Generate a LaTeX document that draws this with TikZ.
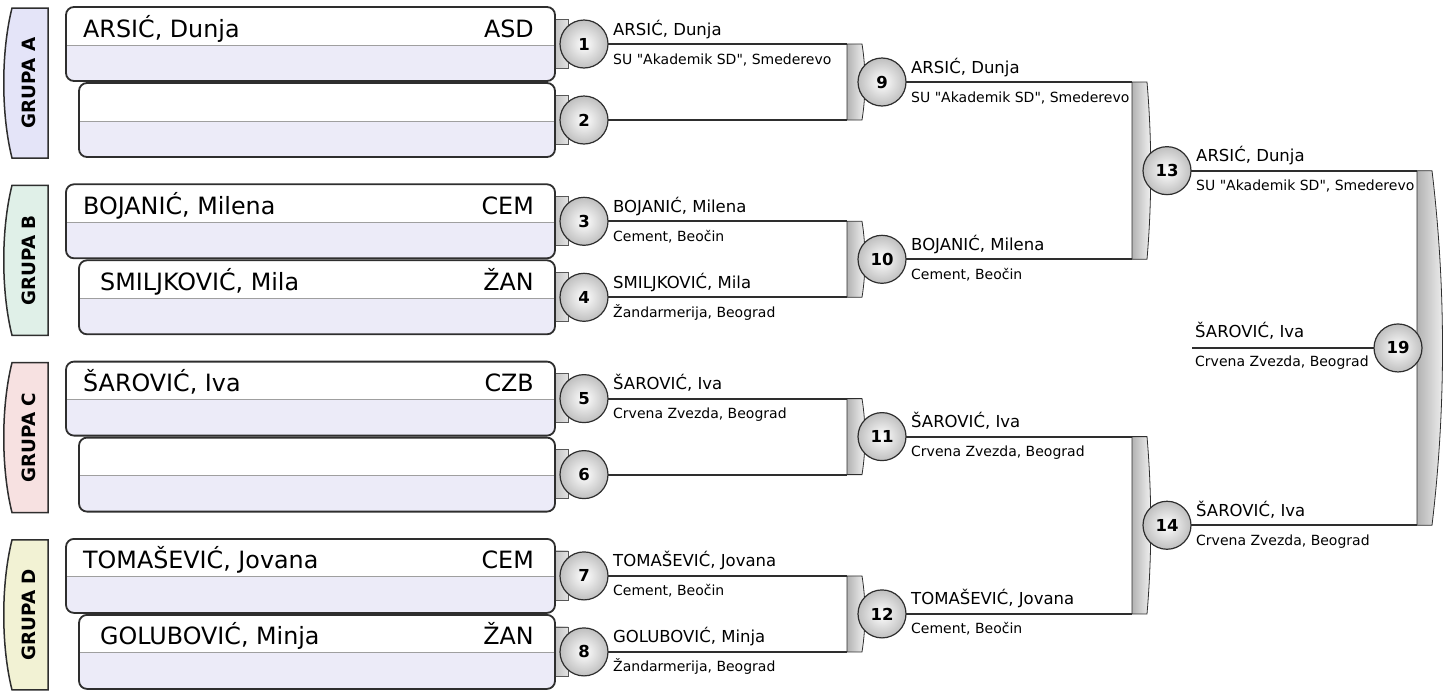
\documentclass[tikz,border=0pt]{standalone}
\usepackage{fontspec}
\setmainfont{DejaVu Sans}[Ligatures=TeXOff]
\usepackage{tikz}
\usetikzlibrary{positioning,calc}
\newcommand{\G}{177.3} % vertical step between groups
\newcommand{\BH}{74}   % height of a player box
\newcommand{\BR}{555}  % right edge of the player boxes
\definecolor{rowlav}{HTML}{ECEBF8}
\definecolor{edgegray}{HTML}{2E2E2E}
\definecolor{tabA}{HTML}{E4E4F8}
\definecolor{tabB}{HTML}{E0F0E8}
\definecolor{tabC}{HTML}{F7E1E1}
\definecolor{tabD}{HTML}{F2F2D4}

\begin{document}
\begin{tikzpicture}[x=1pt,y=-1pt,
    match/.style={circle,draw=edgegray,line width=1.2pt,minimum size=48pt,inner sep=0pt,
        inner color=white,outer color=gray!50,font=\fontsize{16.5}{16.5}\selectfont\bfseries},
    wire/.style={draw=edgegray,line width=2.2pt},
    bracket/.style={draw=edgegray,line width=0.8pt,left color=gray!60,right color=gray!8},
    sidetab/.style={draw=edgegray!80,line width=0.6pt,left color=gray!55,right color=gray!22},
    wname/.style={anchor=base west,inner sep=0pt,font=\fontsize{16.5}{16.5}\selectfont},
    wclub/.style={anchor=base west,inner sep=0pt,font=\fontsize{14}{14}\selectfont},
    bname/.style={anchor=base west,inner sep=0pt,font=\fontsize{23.8}{23.8}\selectfont},
    bclub/.style={anchor=base east,inner sep=0pt,font=\fontsize{23.8}{23.8}\selectfont},
    grp/.style={rotate=90,inner sep=0pt,font=\fontsize{18.3}{18.3}\selectfont\bfseries}]
    \useasboundingbox (0,0) rectangle (1445,691);

    % group tabs on the left
    \foreach \g/\gl/\col in {0/A/tabA,1/B/tabB,2/C/tabC,3/D/tabD}{
        \pgfmathsetmacro{\T}{7+\g*\G}
        \draw [fill=\col,draw=edgegray,line width=1.5pt]
            (48,\T+1) -- (12,\T+1) .. controls (1,\T+45) and (1,\T+107) .. (12,\T+151) -- (48,\T+151) -- cycle;
        \node [grp] (grp\gl) at (29,\T+76) {GRUPA \gl};
    }

    % player boxes, two per group
    \foreach \i/\nm/\ab in {1/{ARSIĆ, Dunja}/ASD,2//,3/{BOJANIĆ, Milena}/CEM,4/{SMILJKOVIĆ, Mila}/ŽAN,
        5/{ŠAROVIĆ, Iva}/CZB,6//,7/{TOMAŠEVIĆ, Jovana}/CEM,8/{GOLUBOVIĆ, Minja}/ŽAN}{
        \pgfmathsetmacro{\lw}{mod(\i-1,2)}
        \pgfmathsetmacro{\T}{7+\G*floor((\i-1)/2)+76*\lw}
        \pgfmathsetmacro{\X}{66+13*\lw}
        \pgfmathsetmacro{\NX}{\X+17+4*\lw}
        \shade [sidetab] (\BR-4,\T+12) rectangle (\BR+13,\T+61);
        \fill [rowlav,rounded corners=8pt] (\X,\T) rectangle (\BR,\T+\BH);
        \begin{scope}
            \clip [rounded corners=8pt] (\X,\T) rectangle (\BR,\T+\BH);
            \fill [white] (\X,\T) rectangle (\BR,\T+38);
        \end{scope}
        \draw [gray!75,line width=1pt] (\X,\T+38) -- (\BR,\T+38);
        \draw [edgegray,line width=1.8pt,rounded corners=8pt] (\X,\T) rectangle (\BR,\T+\BH);
        \node [bname] (bn\i) at (\NX,\T+30) {\nm};
        \node [bclub] (bc\i) at (534,\T+30) {\ab};
        \path (584,\T+37) coordinate (p\i);
    }

    % centres of the later matches
    \foreach \k/\a/\b/\s in {9/1/2/298,10/3/4/298,11/5/6/298,12/7/8/298,13/9/10/285,14/11/12/285,19/13/14/231}{
        \path ($(p\a)!0.5!(p\b)+(\s,0)$) coordinate (p\k);
    }

    % brackets joining two matches
    \foreach \k/\a/\b/\dx/\bw in {9/1/2/263/4,10/3/4/263/4,11/5/6/263/4,12/7/8/263/4,13/9/10/250/5,14/11/12/250/5,19/13/14/250/14}{
        \shade [bracket] ($(p\a)+(\dx,0)$) coordinate (u\k) -- ($(p\a)+(\dx+15,0)$)
            .. controls ($(p\a)!0.33!(p\b)+(\dx+15+\bw,0)$) and ($(p\a)!0.67!(p\b)+(\dx+15+\bw,0)$) .. ($(p\b)+(\dx+15,0)$)
            -- ($(p\b)+(\dx,0)$) coordinate (d\k) -- cycle;
    }

    % lines from each match into its bracket
    \foreach \k/\a/\b in {9/1/2,10/3/4,11/5/6,12/7/8,13/9/10,14/11/12,19/13/14}{
        \draw [wire] (p\a) -- (u\k);
        \draw [wire] (p\b) -- (d\k);
    }
    \path ($(p19)+(-206,0)$) coordinate (s19);
    \draw [wire] (s19) -- (p19);

    % match circles
    \foreach \k in {1,...,14}{
        \node [match] (m\k) at (p\k) {\k};
    }
    \node [match] (m19) at (p19) {19};

    % winners written on the lines
    \foreach \k/\nm/\cl in {1/{ARSIĆ, Dunja}/{SU "Akademik SD", Smederevo},
        3/{BOJANIĆ, Milena}/{Cement, Beočin},
        4/{SMILJKOVIĆ, Mila}/{Žandarmerija, Beograd},
        5/{ŠAROVIĆ, Iva}/{Crvena Zvezda, Beograd},
        7/{TOMAŠEVIĆ, Jovana}/{Cement, Beočin},
        8/{GOLUBOVIĆ, Minja}/{Žandarmerija, Beograd},
        9/{ARSIĆ, Dunja}/{SU "Akademik SD", Smederevo},
        10/{BOJANIĆ, Milena}/{Cement, Beočin},
        11/{ŠAROVIĆ, Iva}/{Crvena Zvezda, Beograd},
        12/{TOMAŠEVIĆ, Jovana}/{Cement, Beočin},
        13/{ARSIĆ, Dunja}/{SU "Akademik SD", Smederevo},
        14/{ŠAROVIĆ, Iva}/{Crvena Zvezda, Beograd}}{
        \node [wname] (wn\k) at ($(p\k)+(29,-9)$) {\nm};
        \node [wclub] (wc\k) at ($(p\k)+(29,20)$) {\cl};
    }
    \node [wname] (wn19) at ($(s19)+(3,-10)$) {ŠAROVIĆ, Iva};
    \node [wclub] (wc19) at ($(s19)+(3,19)$) {Crvena Zvezda, Beograd};
\end{tikzpicture}
\end{document}
